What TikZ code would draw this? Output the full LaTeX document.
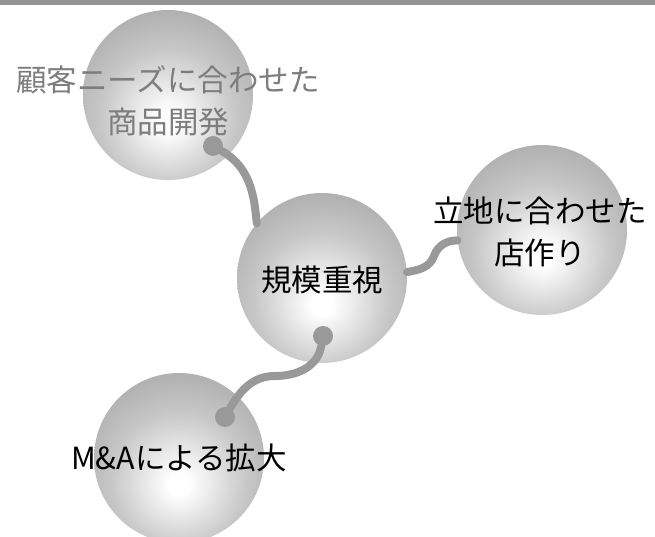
\documentclass[tikz,border=0pt]{standalone}
\usepackage{fontspec}
\setmainfont{Noto Sans CJK JP}
\usepackage{tikz}
\usetikzlibrary{calc}

\definecolor{bargray}{RGB}{149,149,149}
\definecolor{linegray}{RGB}{153,153,153}
\definecolor{textgray}{RGB}{125,125,125}
\pgfdeclareradialshading{ballshade}{\pgfpoint{0bp}{-8bp}}{%
  color(0bp)=(white); color(3bp)=(white); color(20bp)=(black!22);
  color(38bp)=(black!37); color(50bp)=(black!42); color(100bp)=(black!42)}

\begin{document}
\begin{tikzpicture}[x = 1pt, y = -1pt]

\tikzstyle{ball}=[circle, shading = ballshade, minimum size = 170pt, inner sep = 0]
\tikzstyle{knob}=[circle, fill = linegray, minimum size = 20pt, inner sep = 0]
\tikzstyle{caption}=[align = center, font = \fontsize{30.5}{42}\selectfont]
\tikzstyle{stem}=[line width = 8pt, color = linegray, line cap = round]

\useasboundingbox (0, 0) rectangle (655, 537);
\clip (0, 0) rectangle (655, 537);
\fill[bargray] (0, 0) rectangle (655, 5);

\coordinate (N) at (168, 95);
\coordinate (S) at (322, 278);
\coordinate (L) at (542, 230);
\coordinate (M) at (179, 458);
\coordinate (bendL) at (434, 256);
\coordinate (bendM) at (275, 376);

\path
($(N)$) node[ball](needs) {}
($(S)$) node[ball](scale) {}
($(L)$) node[ball](site) {}
($(M)$) node[ball](merge) {};

\path
(213, 146) node[knob](knobN) {}
(323, 336) node[knob](knobS) {}
(225, 417) node[knob](knobM) {};

% stems
\draw[stem] (knobN) to [out=-30, in=95] (scale.140);
\draw[stem] (scale.4) to [out=10, in=-110] (bendL) to [out=70, in=180] (site.187);
\draw[stem] (knobS) to [out=-100, in=0] (bendM) to [out=180, in=60] (knobM);

% captions
\path
($(N) + (0, 6)$) node[caption, text = textgray](needsText) {顧客ニーズに合わせた\\商品開発}
($(S) + (0, 2)$) node[caption](scaleText) {規模重視}
($(L) + (-2, 2)$) node[caption](siteText) {立地に合わせた\\店作り}
($(M)$) node[caption](mergeText) {M\&Aによる拡大};

\end{tikzpicture}
\end{document}
